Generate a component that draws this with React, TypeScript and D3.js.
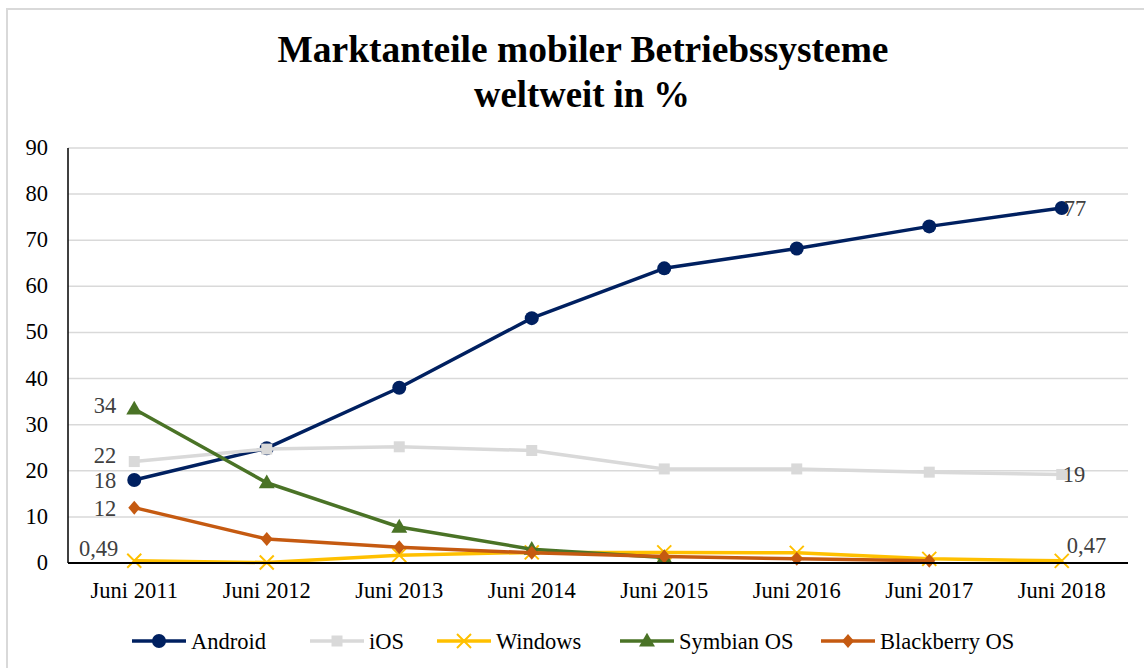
import * as d3 from "d3";

const categories = ["Juni 2011", "Juni 2012", "Juni 2013", "Juni 2014", "Juni 2015", "Juni 2016", "Juni 2017", "Juni 2018"];
const yTicks = [0, 10, 20, 30, 40, 50, 60, 70, 80, 90];

const android = [18, 24.9, 38, 53.1, 63.9, 68.2, 73, 77];
const ios = [22, 24.7, 25.2, 24.4, 20.4, 20.4, 19.7, 19.2];
const windows = [0.49, 0.1, 1.7, 2.3, 2.3, 2.2, 0.9, 0.47];
const symbian = [33.4, 17.4, 7.8, 3, 1.2, null, null, null];
const blackberry = [12, 5.2, 3.4, 2.2, 1.4, 0.9, 0.5, null];

type Series = { name: string; values: (number | null)[]; color: string; marker: string };

const series: Series[] = [
  { name: "Android", values: android, color: "#002060", marker: "circle" },
  { name: "iOS", values: ios, color: "#d9d9d9", marker: "square" },
  { name: "Windows", values: windows, color: "#ffc000", marker: "x" },
  { name: "Symbian OS", values: symbian, color: "#4a7326", marker: "triangle" },
  { name: "Blackberry OS", values: blackberry, color: "#c55a11", marker: "diamond" },
];

// data labels: series index, point index, text
const dataLabels = [
  { s: 3, i: 0, text: "34", dx: -18, dy: 4 },
  { s: 1, i: 0, text: "22", dx: -18, dy: 1 },
  { s: 0, i: 0, text: "18", dx: -18, dy: 8 },
  { s: 4, i: 0, text: "12", dx: -18, dy: 8 },
  { s: 2, i: 0, text: "0,49", dx: -16, dy: -5 },
  { s: 0, i: 7, text: "77", dx: 2, dy: 8 },
  { s: 1, i: 7, text: "19", dx: 1, dy: 8 },
  { s: 2, i: 7, text: "0,47", dx: 5, dy: -8 },
];

const legendX = [132, 310, 437, 620, 821];

const W = 1144, H = 668;
const FONT = "'Liberation Serif', 'Times New Roman', serif";
const FS = 22.5;
const m = { left: 68, right: 1128, top: 148, bottom: 563 };

function Marker({ type, color, x, y }: { type: string; color: string; x: number; y: number }) {
  if (type === "circle") return <circle cx={x} cy={y} r={7} fill={color} />;
  if (type === "square") return <rect x={x - 5.5} y={y - 5.5} width={11} height={11} fill={color} />;
  if (type === "x")
    return (
      <path d={`M${x - 7},${y - 7}L${x + 7},${y + 7}M${x - 7},${y + 7}L${x + 7},${y - 7}`} stroke={color} strokeWidth={2} />
    );
  if (type === "triangle") {
    const p = d3.symbol(d3.symbolTriangle, 110)();
    return <path d={p || ""} transform={`translate(${x},${y + 1})`} fill={color} />;
  }
  return <path d={`M${x},${y - 7}L${x + 6},${y}L${x},${y + 7}L${x - 6},${y}Z`} fill={color} />;
}

export default function App() {
  const x = d3.scaleBand().domain(categories).range([m.left, m.right]);
  const y = d3.scaleLinear().domain([0, 90]).range([m.bottom, m.top]);
  const cx = (i: number) => (x(categories[i]) as number) + x.bandwidth() / 2;

  const line = d3
    .line<number | null>()
    .defined((d) => d != null)
    .x((_, i) => cx(i))
    .y((d) => y(d as number));

  return (
    <div style={{ position: "absolute", left: 0, top: 0 }}>
      <svg width={W} height={H} style={{ display: "block", background: "#fff" }} fontFamily={FONT}>
        <rect x={7} y={9} width={1160} height={700} fill="#fff" stroke="#d9d9d9" strokeWidth={2} />
        <text x={583} y={62} textAnchor="middle" fontSize={38} fontWeight="bold" textLength={611} lengthAdjust="spacingAndGlyphs">
          Marktanteile mobiler Betriebssysteme
        </text>
        <text x={582} y={107} textAnchor="middle" fontSize={38} fontWeight="bold" textLength={216} lengthAdjust="spacingAndGlyphs">
          weltweit in %
        </text>

        {yTicks.map((t) => (
          <g key={t}>
            {t > 0 && <line x1={m.left} x2={m.right} y1={y(t)} y2={y(t)} stroke="#d9d9d9" strokeWidth={1.5} />}
            <text x={48} y={y(t) + 7} textAnchor="end" fontSize={FS}>
              {t}
            </text>
          </g>
        ))}
        <line x1={m.left} x2={m.left} y1={m.top} y2={m.bottom} stroke="#000" strokeWidth={1.5} />

        {categories.map((c, i) => (
          <text key={c} x={cx(i)} y={598} textAnchor="middle" fontSize={FS}>
            {c}
          </text>
        ))}

        {series.map((s) => (
          <g key={s.name}>
            <path d={line(s.values) || ""} fill="none" stroke={s.color} strokeWidth={3.5} strokeLinejoin="round" />
            {s.values.map((v, i) => (v == null ? null : <Marker key={i} type={s.marker} color={s.color} x={cx(i)} y={y(v)} />))}
          </g>
        ))}
        <line x1={m.left} x2={m.right} y1={m.bottom} y2={m.bottom} stroke="#000" strokeWidth={2} />

        {dataLabels.map((l, k) => {
          const v = series[l.s].values[l.i] as number;
          return (
            <text key={k} x={cx(l.i) + l.dx} y={y(v) + l.dy} textAnchor={l.dx < 0 ? "end" : "start"} fontSize={FS} fill="#404040">
              {l.text}
            </text>
          );
        })}

        {series.map((s, k) => {
          const lx = legendX[k];
          const ly = 641;
          return (
            <g key={s.name}>
              <line x1={lx} x2={lx + 54} y1={ly} y2={ly} stroke={s.color} strokeWidth={3.5} />
              <Marker type={s.marker} color={s.color} x={lx + 27} y={ly} />
              <text x={lx + 59} y={ly + 8} fontSize={FS}>
                {s.name}
              </text>
            </g>
          );
        })}
      </svg>
    </div>
  );
}
